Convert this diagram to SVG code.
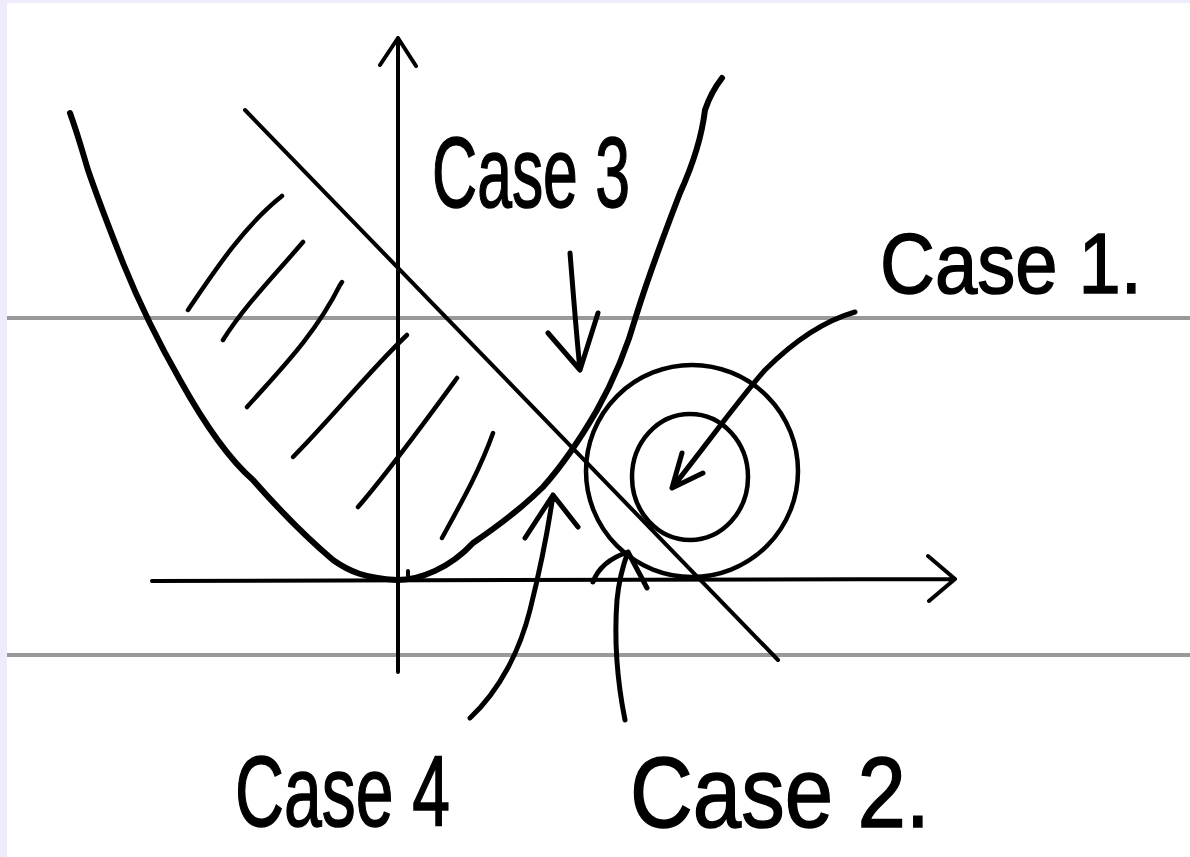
<svg xmlns="http://www.w3.org/2000/svg" width="1190" height="857" viewBox="0 0 1190 857">
<style>
.ink{fill:none;stroke:#000;stroke-linecap:round;stroke-linejoin:round}
.axis{stroke-width:4}
.thick{stroke-width:6}
.hatch{stroke-width:4.5}
.arr{stroke-width:5}
.rule{stroke:#999;stroke-width:4;fill:none}
.lbl{font-family:"Liberation Sans",Arial,sans-serif;font-size:100px;fill:#000;stroke:#000;stroke-width:1.5}
</style>
<rect x="0" y="0" width="1190" height="857" fill="#efebfb"/>
<rect x="7" y="3" width="1183" height="854" fill="#fff"/>
<g id="rules">
<line class="rule" x1="7" y1="318" x2="1190" y2="318"/>
<line class="rule" x1="7" y1="655" x2="1190" y2="655"/>
</g>
<g id="axes">
<path class="ink axis" d="M398 672 L398 38 M380 65 L398 38 L416 66"/>
<path class="ink axis" d="M152 581 L955 579 M928 556 L955 579 L929 601"/>
<path class="ink axis" d="M408 571 L408 580"/>
</g>
<g id="parabola">
<path class="ink thick" d="M70 113 C78 135 82 150 88 170 C100 205 112 235 123 263 C140 305 160 345 180 380 C205 425 230 460 253 480 C275 505 300 532 333 560 C350 572 365 578 397 580 C420 580 450 568 473 543 C495 528 525 505 543 487 C560 468 575 448 597 410 C615 378 628 345 637 313 C648 278 660 245 680 193 C695 160 702 135 705 110 C710 95 715 87 722 78"/>
</g>
<g id="line">
<path class="ink axis" d="M245 110 L778 660"/>
</g>
<g id="hatching">
<path class="ink hatch" d="M188 310 C215 270 245 225 282 196"/>
<path class="ink hatch" d="M223 340 C245 305 275 275 303 242"/>
<path class="ink hatch" d="M247 407 C280 370 315 335 340 285 L342 282"/>
<path class="ink hatch" d="M293 457 C330 420 370 370 407 335"/>
<path class="ink hatch" d="M358 507 C390 470 430 415 457 378"/>
<path class="ink hatch" d="M442 538 C460 505 480 470 493 433"/>
</g>
<g id="circles">
<circle class="ink hatch" cx="692" cy="471" r="106"/>
<ellipse class="ink hatch" cx="690" cy="477" rx="58" ry="63"/>
</g>
<g id="connectors">
<path class="ink arr" d="M855 312 C820 322 790 345 765 370 C740 398 710 440 672 488 M682 453 L672 488 L703 473"/>
<path class="ink arr" d="M570 253 C573 290 576 330 580 370 M548 333 L580 370 L598 313"/>
<path class="ink arr" d="M470 718 C500 690 520 650 530 610 C540 570 548 530 553 495 M525 538 L553 495 L578 527"/>
<path class="ink arr" d="M625 720 C617 680 614 640 617 600 C619 580 623 565 628 552 M593 582 C598 568 610 558 628 552 L647 588"/>
</g>
<g id="labels">
<text class="lbl" x="432" y="207" textLength="198" lengthAdjust="spacingAndGlyphs">Case 3</text>
<text class="lbl" x="880" y="293" style="font-size:86px" textLength="262" lengthAdjust="spacingAndGlyphs">Case 1.</text>
<text class="lbl" x="235" y="826" textLength="215" lengthAdjust="spacingAndGlyphs">Case 4</text>
<text class="lbl" x="630" y="827" textLength="300" lengthAdjust="spacingAndGlyphs">Case 2.</text>
</g>
</svg>
